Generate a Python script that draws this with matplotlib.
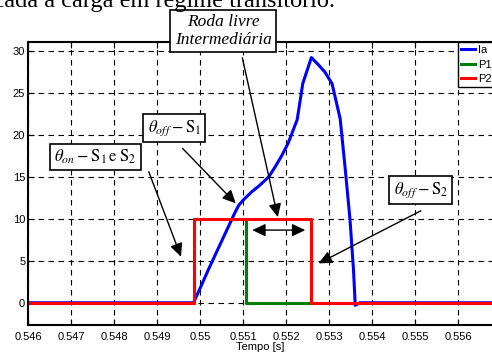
import matplotlib
matplotlib.use('Agg')
import matplotlib.pyplot as plt

# dados
t_ia = [0.546, 0.54985, 0.5500, 0.5502, 0.5504, 0.5506, 0.5508, 0.5509, 0.55100,
        0.55106, 0.5512, 0.55137, 0.5516, 0.55175, 0.55191, 0.55205, 0.55214,
        0.55226, 0.55239, 0.5525, 0.55259, 0.55276, 0.5529, 0.55307, 0.55326,
        0.55338, 0.55349, 0.55357, 0.55361, 0.55372, 0.557]
ia = [0, 0, 1.7, 4.0, 6.2, 8.4, 10.6, 11.6, 12.2, 12.5, 13.2, 13.9, 15.0, 16.2,
      17.6, 19.0, 20.2, 21.8, 26.1, 27.8, 29.2, 28.3, 27.5, 26.1, 21.9, 15.8,
      9.8, 3.9, -0.3, 0, 0]

theta_on = 0.54985
theta_off1 = 0.55106
theta_off2 = 0.55259
t_end = [0.546, 0.557]
pulso = 10

t_p1 = [t_end[0], theta_on, theta_on, theta_off1, theta_off1, t_end[1]]
p1 = [0, 0, pulso, pulso, 0, 0]
t_p2 = [t_end[0], theta_on, theta_on, theta_off2, theta_off2, t_end[1]]
p2 = [0, 0, pulso, pulso, 0, 0]

xticks = [0.546, 0.547, 0.548, 0.549, 0.55, 0.551, 0.552, 0.553, 0.554, 0.555, 0.556]
xlabels = ['0.546', '0.547', '0.548', '0.549', '0.55', '0.551', '0.552', '0.553',
           '0.554', '0.555', '0.556']
yticks = [0, 5, 10, 15, 20, 25, 30]

plt.rcParams['font.family'] = ['Liberation Sans', 'DejaVu Sans']
plt.rcParams['mathtext.fontset'] = 'stix'

fig = plt.figure(figsize=(4.92, 3.52), dpi=100)
ax = fig.add_axes([28/492, 1 - 325/352, 464/492, 283/352])

ax.plot(t_ia, ia, color='#0000ff', lw=2.2, label='Ia')
ax.plot(t_p1, p1, color='#008000', lw=2.2, label='P1')
ax.plot(t_p2, p2, color='#ff0000', lw=2.2, label='P2')

ax.set_xlim(0.546, 0.546 + 464/43000)
ax.set_ylim(-2.65, 31.05)
ax.set_xticks(xticks)
ax.set_xticklabels(xlabels)
ax.set_yticks(yticks)
ax.tick_params(direction='in', length=4, width=0.8, labelsize=8, top=True,
               colors='k')
ax.tick_params(axis='x', pad=5)
ax.tick_params(axis='y', pad=2)
ax.grid(True, color='k', linestyle=(0, (5, 4)), lw=0.8)
for s in ['left', 'bottom', 'top']:
    ax.spines[s].set_linewidth(1.5)
ax.spines['right'].set_visible(False)
ax.set_xlabel('Tempo [s]', fontsize=8, labelpad=0)

leg = ax.legend(loc='upper left', bbox_to_anchor=(457.7/492, 1 - 42/352),
                bbox_transform=fig.transFigure, borderaxespad=0, fontsize=8,
                handlelength=1.3, handletextpad=0.25, labelspacing=0.38,
                borderpad=0.3, fancybox=False, framealpha=1)
leg.get_frame().set_edgecolor('k')
leg.get_frame().set_linewidth(1.0)

# texto do documento cortado no topo
fig.text(335/492, 1 - 6.5/352, 'aplicada a carga em regime transitório.',
         ha='right', va='baseline', fontsize=17.5, family='Liberation Serif')

caixa = dict(boxstyle='square,pad=0.25', fc='white', ec='k', lw=1.2)
seta = dict(arrowstyle='-|>,head_length=0.8,head_width=0.38', color='k', lw=1.0,
            mutation_scale=10, shrinkA=0, shrinkB=0)

ax.text(0.550537, 32.35, 'Roda livre\nIntermediária', ha='center', va='center',
        fontsize=12.5, family='Liberation Serif', style='italic', bbox=caixa,
        clip_on=False, linespacing=1.1)
ax.annotate('', xy=(0.55181, 10.2), xytext=(0.550984, 29.17), arrowprops=seta,
            annotation_clip=False)

ax.text(0.549403, 20.8, r'$\theta_{off} - \mathrm{S}_1$', ha='center', va='center',
        fontsize=12, bbox=caixa)
ax.annotate('', xy=(0.550831, 11.83), xytext=(0.549595, 18.38), arrowprops=seta)

ax.text(0.547574, 17.35, r'$\theta_{on} - \mathrm{S}_1\,\mathrm{e}\;\mathrm{S}_2$',
        ha='center', va='center', fontsize=12, bbox=caixa)
ax.annotate('', xy=(0.549558, 5.48), xytext=(0.548808, 15.6), arrowprops=seta)

ax.text(0.555132, 13.42, r'$\theta_{off} - \mathrm{S}_2$', ha='center', va='center',
        fontsize=12, bbox=caixa)
ax.annotate('', xy=(0.552759, 4.69), xytext=(0.555137, 10.95), arrowprops=seta)

seta2 = dict(arrowstyle='<|-|>,head_length=0.8,head_width=0.38', color='k', lw=1.0,
             mutation_scale=10, shrinkA=0, shrinkB=0)
ax.annotate('', xy=(0.552449, 8.65), xytext=(0.551215, 8.65), arrowprops=seta2)

fig.savefig('out.png', dpi=100)
